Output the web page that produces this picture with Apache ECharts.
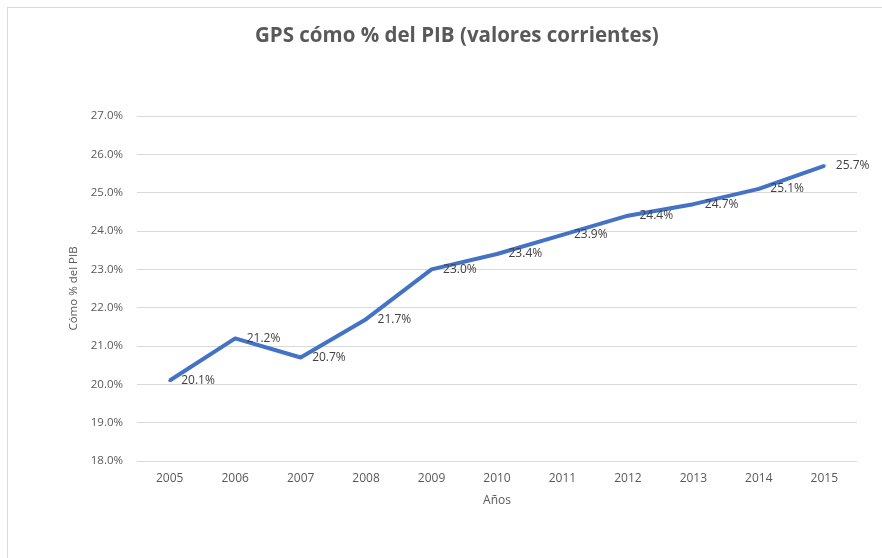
<!DOCTYPE html>
<html><head><meta charset="utf-8">
<script src="https://cdn.jsdelivr.net/npm/echarts@6/dist/echarts.min.js"></script>
<style>html,body{margin:0;padding:0;background:#fff}#frame{position:absolute;left:7px;top:7px;width:900px;height:600px;border:1px solid #d9d9d9;box-sizing:border-box}#c{position:absolute;left:0;top:0;width:882px;height:558px}</style>
</head><body><div id="frame"></div><div id="c"></div>
<script>
const years = ['2005','2006','2007','2008','2009','2010','2011','2012','2013','2014','2015'];
const gpsPct = [20.1, 21.2, 20.7, 21.7, 23.0, 23.4, 23.9, 24.4, 24.7, 25.1, 25.7];
const titleText = 'GPS cómo % del PIB (valores corrientes)';
const yName = 'Cómo % del PIB';
const xName = 'Años';
const font = '"Open Sans", sans-serif';
const chart = echarts.init(document.getElementById('c'));
chart.setOption({
  animation: false,
  title: {text: titleText, left: 250, top: 21, textStyle: {fontFamily: font, fontSize: 20.5, fontWeight: 'bold', color: '#595959'}},
  grid: {left: 137, right: 25, top: 116, bottom: 97},
  xAxis: {type: 'category', data: years, boundaryGap: true,
    name: xName, nameLocation: 'middle', nameGap: 34, nameTextStyle: {fontFamily: font, fontSize: 12, color: '#595959'},
    axisLine: {show: true, lineStyle: {color: '#d9d9d9'}}, axisTick: {show: false},
    axisLabel: {fontFamily: font, fontSize: 12, color: '#595959', margin: 12}},
  yAxis: {type: 'value', min: 18, max: 27, interval: 1,
    name: yName, nameLocation: 'middle', nameGap: 54, nameTextStyle: {fontFamily: font, fontSize: 11.5, color: '#595959'},
    axisLine: {show: false}, axisTick: {show: false},
    splitLine: {lineStyle: {color: '#d9d9d9', width: 1}},
    axisLabel: {fontFamily: font, fontSize: 11.5, color: '#595959', margin: 14, formatter: v => v.toFixed(1) + '%'}},
  series: [{type: 'line', data: gpsPct, symbol: 'circle', symbolSize: 3, showSymbol: true,
    itemStyle: {color: '#4472C4'}, lineStyle: {color: '#4472C4', width: 4},
    label: {show: true, position: 'right', distance: 10, fontFamily: font, fontSize: 12, color: '#404040', formatter: p => p.value.toFixed(1) + '%'}}]
});
</script></body></html>
